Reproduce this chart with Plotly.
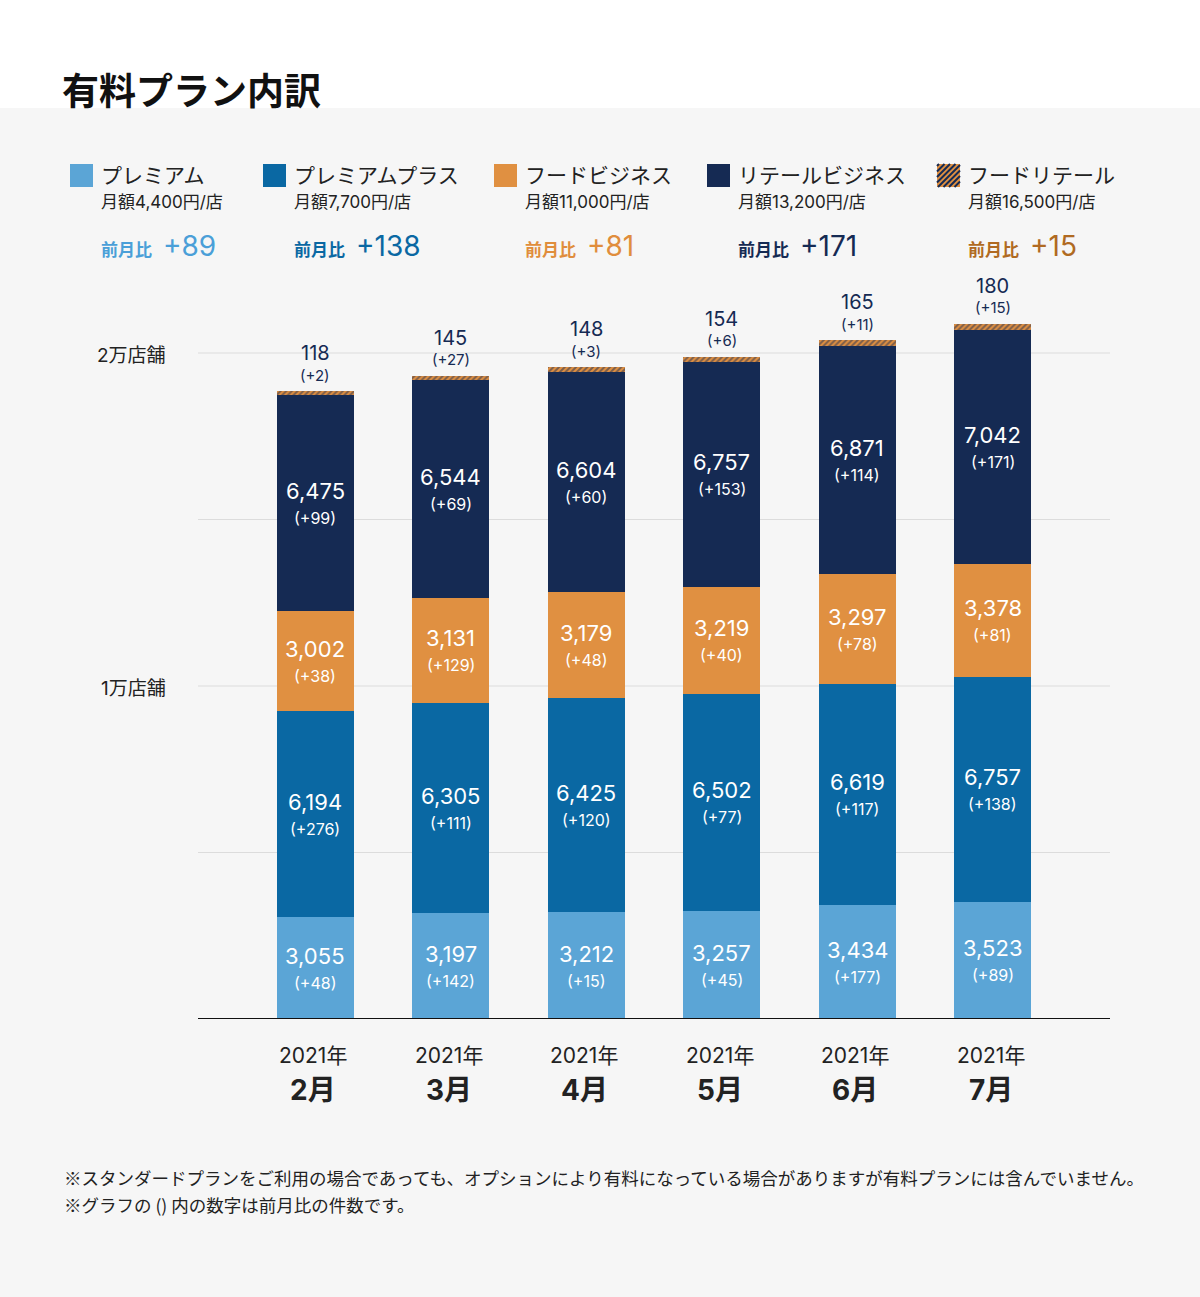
import plotly.graph_objects as go

# ---------------- data ----------------
years = ["2021年"] * 6
months = ["2月", "3月", "4月", "5月", "6月", "7月"]

premium = [3055, 3197, 3212, 3257, 3434, 3523]
premium_d = [48, 142, 15, 45, 177, 89]
plus = [6194, 6305, 6425, 6502, 6619, 6757]
plus_d = [276, 111, 120, 77, 117, 138]
food = [3002, 3131, 3179, 3219, 3297, 3378]
food_d = [38, 129, 48, 40, 78, 81]
retail = [6475, 6544, 6604, 6757, 6871, 7042]
retail_d = [99, 69, 60, 153, 114, 171]
food_retail = [118, 145, 148, 154, 165, 180]
food_retail_d = [2, 27, 3, 6, 11, 15]

series_names = ["プレミアム", "プレミアムプラス", "フードビジネス", "リテールビジネス", "フードリテール"]
series_prices = ["月額4,400円/店", "月額7,700円/店", "月額11,000円/店", "月額13,200円/店", "月額16,500円/店"]
series_month_delta = [89, 138, 81, 171, 15]

y_tick_vals = [10000, 20000]
y_tick_text = ["1万店舗", "2万店舗"]
grid_vals = [5000, 10000, 15000, 20000]

title = "有料プラン内訳"
notes = [
    "※スタンダードプランをご利用の場合であっても、オプションにより有料になっている場合がありますが有料プランには含んでいません。",
    "※グラフの () 内の数字は前月比の件数です。",
]

# ---------------- style ----------------
C_PREM = "#5ba5d6"
C_PLUS = "#0a68a3"
C_FOOD = "#e09041"
C_RETAIL = "#152a53"
delta_colors = ["#4a9fd8", "#0a68a3", "#e08d3c", "#152a53", "#b06a22"]
FONT = "Inter, Noto Sans CJK JP"
JFONT = "Noto Sans CJK JP"
BG = "#f6f6f6"

W, H = 1200, 1297
L, R, T, B = 198, 90, 270, 278
PW, PH = W - L - R, H - T - B
YMAX = 20000 * PH / 666.0


def X(px):
    return (px - L) / PW


def Y(py):
    return (H - B - py) / PH


xs = list(range(len(months)))
fig = go.Figure()

layers = [
    (premium, C_PREM, series_names[0]),
    (plus, C_PLUS, series_names[1]),
    (food, C_FOOD, series_names[2]),
    (retail, C_RETAIL, series_names[3]),
]
for vals, col, nm in layers:
    fig.add_bar(x=xs, y=vals, name=nm, marker=dict(color=col, line=dict(width=0)),
                width=0.568, showlegend=False, hoverinfo="skip")
fig.add_bar(x=xs, y=food_retail, name=series_names[4], width=0.568, showlegend=False,
            hoverinfo="skip",
            marker=dict(color=C_FOOD, line=dict(width=0),
                        pattern=dict(shape="/", bgcolor=C_FOOD, fgcolor=C_RETAIL,
                                     size=4, solidity=0.5)))

annotations = []
shapes = []

# inside labels
seg_vals = [(premium, premium_d), (plus, plus_d), (food, food_d), (retail, retail_d)]
for i in xs:
    base = 0
    for vals, ds in seg_vals:
        v = vals[i]
        annotations.append(dict(
            x=i, y=base + v / 2, xref="x", yref="y", showarrow=False,
            text=f"{v:,}", yshift=12,
            font=dict(family=FONT, size=22, color="white"), yanchor="middle"))
        annotations.append(dict(
            x=i, y=base + v / 2, xref="x", yref="y", showarrow=False,
            text=f"(+{ds[i]})", yshift=-15,
            font=dict(family=FONT, size=16, color="white"), yanchor="middle"))
        base += v
    total_top = base + food_retail[i]
    annotations.append(dict(
        x=i, y=total_top, xref="x", yref="y", showarrow=False, yanchor="middle", yshift=38,
        text=f"{food_retail[i]}", font=dict(family=FONT, size=20, color=C_RETAIL)))
    annotations.append(dict(
        x=i, y=total_top, xref="x", yref="y", showarrow=False, yanchor="middle", yshift=16,
        text=f"(+{food_retail_d[i]})", font=dict(family=FONT, size=15, color=C_RETAIL)))
    # category labels
    annotations.append(dict(x=i, y=Y(1055), xref="x", yref="paper", showarrow=False,
                            text=years[i], font=dict(family=FONT, size=21, color="#222"),
                            yanchor="middle", xshift=-2))
    annotations.append(dict(x=i, y=Y(1090), xref="x", yref="paper", showarrow=False,
                            text=f"<b>{months[i]}</b>", font=dict(family=FONT, size=28, color="#222"),
                            yanchor="middle", xshift=-2))

# y labels
for v, t in zip(y_tick_vals, y_tick_text):
    annotations.append(dict(x=X(168), y=v, xref="paper", yref="y", showarrow=False,
                            xanchor="right", yanchor="middle", text=t, yshift=-2,
                            font=dict(family=FONT, size=19, color="#222")))

# gridlines
for v in grid_vals:
    shapes.append(dict(type="line", xref="paper", yref="y", x0=0, x1=1, y0=v, y1=v,
                       line=dict(color="#dcdcdc", width=1), layer="below"))
# baseline
shapes.append(dict(type="line", xref="paper", yref="y", x0=0, x1=1, y0=0, y1=0,
                   line=dict(color="#111", width=2), layer="above"))

# background split: white top band
shapes.append(dict(type="rect", xref="paper", yref="paper", x0=X(0), x1=X(W), y0=Y(0), y1=Y(108),
                   fillcolor="white", line=dict(width=0), layer="below"))

# title
annotations.append(dict(x=X(60), y=Y(89), xref="paper", yref="paper", showarrow=False,
                        xanchor="left", yanchor="middle", text=f"<b>{title}</b>",
                        font=dict(family=JFONT, size=37, color="#111")))

# legend
sq_x = [70, 263, 494, 707, 937]
sq_cols = [C_PREM, C_PLUS, C_FOOD, C_RETAIL, C_FOOD]
for k in range(5):
    x0 = sq_x[k]
    shapes.append(dict(type="rect", xref="paper", yref="paper", x0=X(x0), x1=X(x0 + 23),
                       y0=Y(164), y1=Y(187), fillcolor=sq_cols[k], line=dict(width=0)))
    tx = x0 + 29
    annotations.append(dict(x=X(tx), y=Y(174), xref="paper", yref="paper", showarrow=False,
                            xanchor="left", yanchor="middle", text=series_names[k],
                            font=dict(family=JFONT, size=21, color="#222")))
    annotations.append(dict(x=X(tx), y=Y(202), xref="paper", yref="paper", showarrow=False,
                            xanchor="left", yanchor="middle", text=series_prices[k],
                            font=dict(family=FONT, size=17, color="#222")))
    annotations.append(dict(x=X(tx), y=Y(248), xref="paper", yref="paper", showarrow=False,
                            xanchor="left", yanchor="middle", text="<b>前月比</b>",
                            font=dict(family=JFONT, size=17, color=delta_colors[k])))
    annotations.append(dict(x=X(tx + 62), y=Y(246), xref="paper", yref="paper", showarrow=False,
                            xanchor="left", yanchor="middle",
                            text=f"+{series_month_delta[k]}",
                            font=dict(family="Inter", size=28, color=delta_colors[k])))

# hatching on last legend square
hx0, hy0, hs = sq_x[4], 164, 23
c = hx0 + hy0 + 2
while c < hx0 + hy0 + 2 * hs:
    xa = max(hx0, c - (hy0 + hs))
    xb = min(hx0 + hs, c - hy0)
    if xb > xa:
        shapes.append(dict(type="line", xref="paper", yref="paper",
                           x0=X(xa), y0=Y(c - xa), x1=X(xb), y1=Y(c - xb),
                           line=dict(color=C_RETAIL, width=2)))
    c += 5.5

# notes
for j, n in enumerate(notes):
    annotations.append(dict(x=X(62), y=Y(1177 + 27 * j), xref="paper", yref="paper",
                            showarrow=False, xanchor="left", yanchor="middle", text=n,
                            font=dict(family=JFONT, size=17.5, color="#222")))

fig.update_layout(
    width=W, height=H, barmode="stack",
    margin=dict(l=L, r=R, t=T, b=B, pad=0),
    paper_bgcolor=BG, plot_bgcolor="rgba(0,0,0,0)",
    xaxis=dict(range=[-0.863, 5.863], showticklabels=False, showgrid=False, zeroline=False,
               fixedrange=True),
    yaxis=dict(range=[0, YMAX], showticklabels=False, showgrid=False, zeroline=False,
               fixedrange=True),
    annotations=annotations, shapes=shapes, bargap=0,
    font=dict(family=FONT),
)

fig.write_html("out.html")
